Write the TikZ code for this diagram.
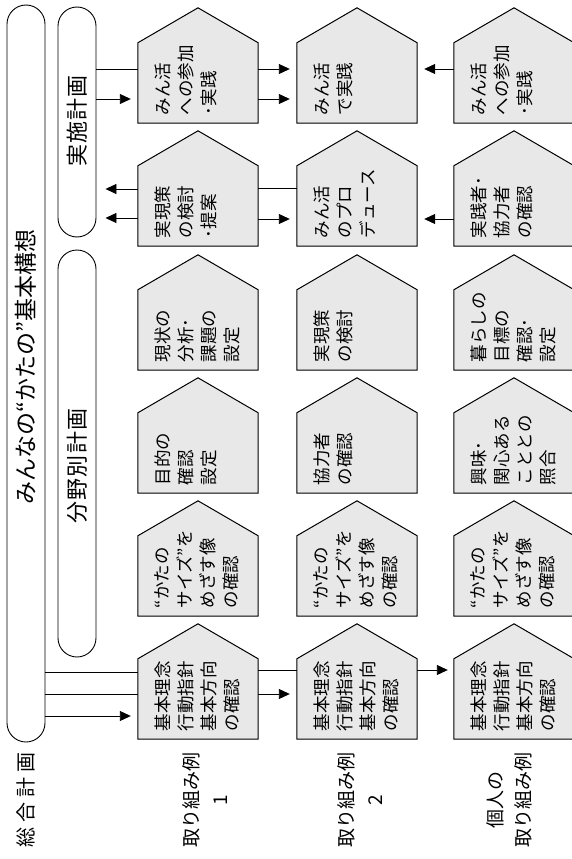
\documentclass[tikz,border=0pt]{standalone}
\usepackage{fontspec}
\setmainfont{Noto Sans CJK JP}
\usetikzlibrary{arrows.meta,calc}
\tikzset{
  body/.style={rectangle, minimum width=120pt, minimum height=80pt, inner sep=0pt},
  housefill/.style={draw=black, line width=1pt, fill=black!9, line join=miter},
  htext/.style={rotate=90, anchor=north west, align=left, inner sep=0pt, font=\fontsize{17.5}{23}\selectfont},
  bar/.style={draw=black, line width=0.9pt, rounded corners=19pt, minimum width=38pt, inner sep=0pt, fill=white},
  conn/.style={line width=0.9pt},
  arr/.style={conn, -{Triangle[length=11pt,width=10pt]}, shorten >=7pt},
  lbl/.style={rotate=90, align=center, inner sep=0pt},
}
\newcommand\house[4]{%
  \node[body] (#1) at (#2+60,#3-40) {};
  \path[housefill] (#1.south west) -- (#1.north west) -- ($(#1.north)+(0,-35)$) -- (#1.north east) -- (#1.south east) -- cycle;
  \node[htext] (#1t) at ($(#1.south west)+(17,-8)$) {#4};
}
\begin{document}
\begin{tikzpicture}[x=1pt,y=-1pt]
\clip (0,0) rectangle (572,859);
\fill[white] (0,0) rectangle (572,859);
% bars
\node[bar, minimum height=737pt] (sogo) at (26,373.5) {};
\node[bar, minimum height=230pt] (jisshi) at (77,122) {};
\node[bar, minimum height=407pt] (bunya) at (77,453.5) {};
\node[lbl, font=\fontsize{23}{23}\selectfont] (title) at (26,367) {みんなの“かたの”基本構想};
\node[lbl, font=\fontsize{22}{22}\selectfont\addfontfeatures{LetterSpace=6}] (jt) at (77,121) {実施計画};
\node[lbl, font=\fontsize{22}{22}\selectfont\addfontfeatures{LetterSpace=6}] (bt) at (77,466) {分野別計画};
\node[lbl, font=\fontsize{20}{20}\selectfont\addfontfeatures{LetterSpace=25}] (st) at (26,800) {総合計画};
% row labels
\node[lbl, font=\fontsize{19}{29}\selectfont] (ex1) at (205,800) {取り組み例\\1};
\node[lbl, font=\fontsize{19}{29}\selectfont] (ex2) at (360,800) {取り組み例\\2};
\node[lbl, font=\fontsize{19}{28}\selectfont] (ex3) at (509,800) {個人の\\取り組み例};
% houses column 1
\house{h11}{138}{123}{みん活\\への参加\\･実践}
\house{h21}{138}{246}{実現策\\の検討\\･提案}
\house{h31}{138}{370}{現状の\\分析･\\課題の\\設定}
\house{h41}{138}{493}{目的の\\確認\\設定}
\house{h51}{138}{616}{“かたの\\サイズ”を\\めざす像\\の確認}
\house{h61}{138}{739}{基本理念\\行動指針\\基本方向\\の確認}
% column 2
\house{h12}{297}{123}{みん活\\で実践}
\house{h22}{297}{246}{みん活\\のプロ\\デュース}
\house{h32}{297}{370}{実現策\\の検討}
\house{h42}{297}{493}{協力者\\の確認}
\house{h52}{297}{616}{“かたの\\サイズ”を\\めざす像\\の確認}
\house{h62}{297}{739}{基本理念\\行動指針\\基本方向\\の確認}
% column 3
\house{h13}{454}{123}{みん活\\への参加\\･実践}
\house{h23}{454}{246}{実践者･\\協力者\\の確認}
\house{h33}{454}{370}{暮らしの\\目標の\\確認･\\設定}
\house{h43}{454}{493}{興味･\\関心ある\\こととの\\照合}
\house{h53}{454}{616}{“かたの\\サイズ”を\\めざす像\\の確認}
\house{h63}{454}{739}{基本理念\\行動指針\\基本方向\\の確認}
% connectors
\draw[conn] (sogo.east |- 0,672) -- (h61.west |- 0,672);
\draw[conn] (sogo.east |- 0,694) -- (h61.west |- 0,694);
\draw[arr] (sogo.east |- 0,716) -- (h61.west |- 0,716);
\draw[conn] (jisshi.east |- 0,69) -- (h11.west |- 0,69);
\draw[arr] (jisshi.east |- 0,99) -- (h11.west |- 0,99);
\draw[arr, shorten >=9pt] (h21.west |- 0,189) -- (jisshi.east |- 0,189);
\draw[arr, shorten >=9pt] (h21.west |- 0,218) -- (jisshi.east |- 0,218);
\draw[arr] (h11.east |- 0,69) -- (h12.west |- 0,69);
\draw[arr] (h11.east |- 0,99) -- (h12.west |- 0,99);
\draw[conn] (h21.east |- 0,188) -- (h22.west |- 0,188);
\draw[arr] (h21.east |- 0,219) -- (h22.west |- 0,219);
\draw[conn] (h61.east |- 0,670) -- (h62.west |- 0,670);
\draw[arr] (h61.east |- 0,694) -- (h62.west |- 0,694);
\draw[arr, shorten >=6pt] (h62.east |- 0,670) -- (h63.west |- 0,670);
\draw[arr] (h13.west |- 0,69) -- (h12.east |- 0,69);
\draw[arr] (h23.west |- 0,219) -- (h22.east |- 0,219);
\end{tikzpicture}
\end{document}
